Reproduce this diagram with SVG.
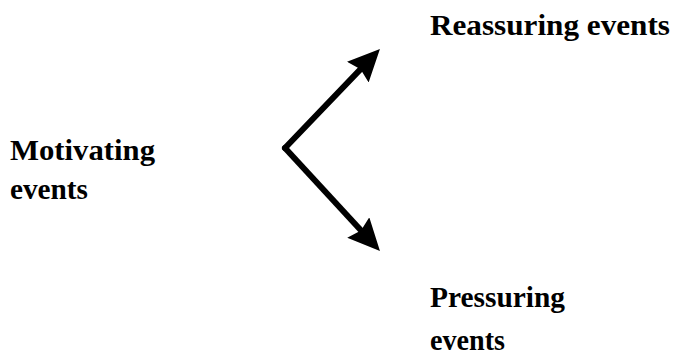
<svg xmlns="http://www.w3.org/2000/svg" width="675" height="357" viewBox="0 0 675 357">
  <style>
    .lbl { font-family: "Liberation Serif", "Times New Roman", serif; font-weight: bold; font-size: 30px; fill: #000; }
    .conn { fill: none; stroke: #000; stroke-width: 6; stroke-linecap: round; stroke-linejoin: round; }
  </style>
  <defs>
    <marker id="head" markerUnits="userSpaceOnUse" markerWidth="34" markerHeight="30" refX="12" refY="15" orient="auto" viewBox="0 0 34 30">
      <path d="M0,0 L32,15 L0,30 L4,15 z" fill="#000"/>
    </marker>
  </defs>
  <rect width="675" height="357" fill="#fff"/>
  <g id="connectors">
    <path class="conn" d="M285,148 L366.1,63.4" marker-end="url(#head)"/>
    <path class="conn" d="M285,148 L366.4,236.3" marker-end="url(#head)"/>
  </g>
  <g id="motivating">
    <text class="lbl" x="10" y="160" textLength="145" lengthAdjust="spacingAndGlyphs">Motivating</text>
    <text class="lbl" x="10" y="199" textLength="78" lengthAdjust="spacingAndGlyphs">events</text>
  </g>
  <g id="reassuring">
    <text class="lbl" x="430" y="35" textLength="240" lengthAdjust="spacingAndGlyphs">Reassuring events</text>
  </g>
  <g id="pressuring">
    <text class="lbl" x="430" y="307" textLength="135" lengthAdjust="spacingAndGlyphs">Pressuring</text>
    <text class="lbl" x="430" y="350" textLength="75" lengthAdjust="spacingAndGlyphs">events</text>
  </g>
</svg>
